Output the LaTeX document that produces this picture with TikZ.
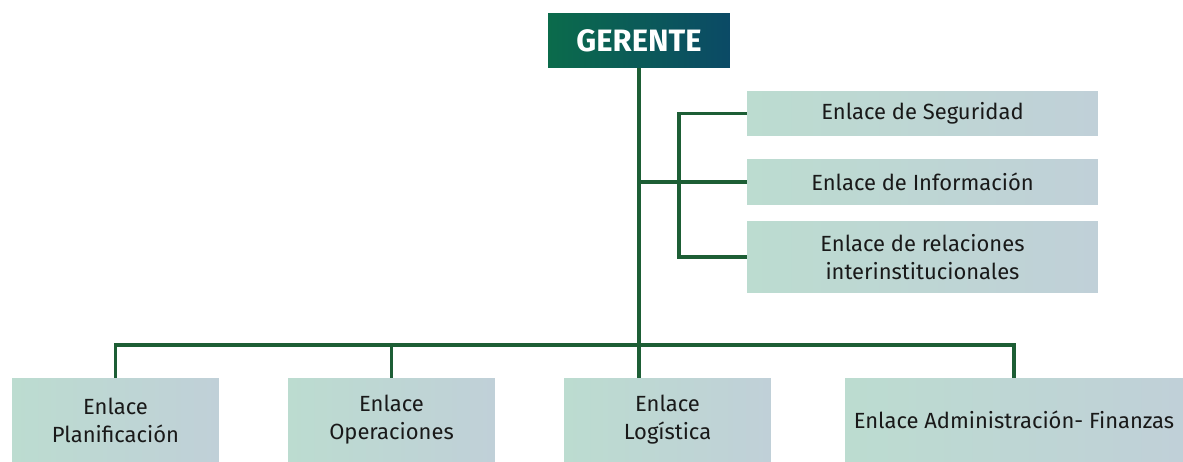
\documentclass[tikz,border=0pt]{standalone}
\usepackage{fontspec}
\setmainfont{Fira Sans}
\definecolor{linea}{HTML}{1D5E35}
\definecolor{verdeA}{HTML}{0B6B4B}
\definecolor{azulA}{HTML}{0B4A66}
\definecolor{mentaA}{HTML}{BCDCD0}
\definecolor{grisA}{HTML}{C0D0D8}
\tikzset{jefe/.style = {rectangle, inner sep=0pt, left color=verdeA, right color=azulA,
            text=white, font=\fontsize{17.6}{20}\selectfont\bfseries},
         enl/.style = {rectangle, inner sep=0pt, left color=mentaA, right color=grisA,
            text=black!90, align=center, font=\fontsize{12.5}{16}\selectfont},
         con/.style = {draw=linea, line width=2pt}}

\begin{document}
\begin{tikzpicture}[x=0.02cm, y=-0.02cm]
    \useasboundingbox (0,0) rectangle (1183,462);
    \node[jefe, minimum width=3.64cm, minimum height=1.10cm] (ger) at (639,40.5) {GERENTE};
    \node[enl, minimum width=7.02cm, minimum height=0.90cm] (seg) at (922.5,113.5) {Enlace de Seguridad};
    \node[enl, minimum width=7.02cm, minimum height=0.92cm] (inf) at (922.5,182) {Enlace de Información};
    \node[enl, minimum width=7.02cm, minimum height=1.44cm] (rel) at (922.5,257) {Enlace de relaciones\\interinstitucionales};
    \node[enl, minimum width=4.14cm, minimum height=1.68cm] (pla) at (115.5,420) {Enlace\\Planificación};
    \node[enl, minimum width=4.14cm, minimum height=1.68cm] (ope) at (391.5,420) {Enlace\\Operaciones};
    \node[enl, minimum width=4.14cm, minimum height=1.68cm] (log) at (667.5,420) {Enlace\\Logística};
    \node[enl, minimum width=6.76cm, minimum height=1.68cm] (adm) at (1014,420) {Enlace Administración- Finanzas};
    \coordinate (bus) at (638,345);
    \coordinate (sp) at (679,182);
    \draw[con] (ger.south) -- (ger.south |- log.north);
    \draw[con] (pla.north) |- (bus) -| (adm.north);
    \draw[con] (ope.north) -- (ope.north |- bus);
    \draw[con] (ger.south |- inf.west) -- (inf.west);
    \draw[con] (seg.west) -| (sp) |- (rel.west);
\end{tikzpicture}
\end{document}
